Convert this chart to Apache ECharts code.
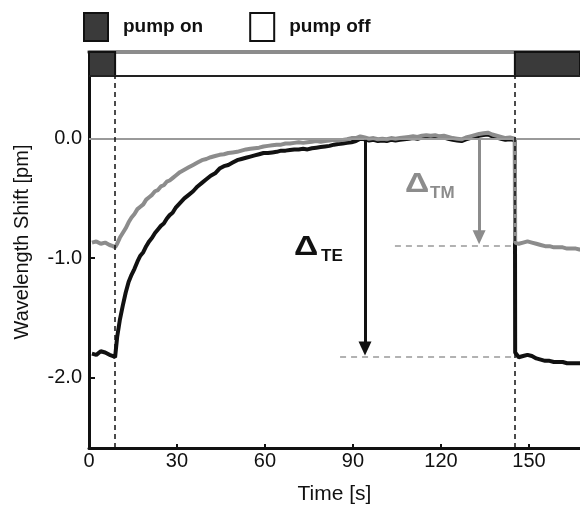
<!DOCTYPE html>
<html>
<head>
<meta charset="utf-8">
<script src="https://cdn.jsdelivr.net/npm/echarts@6/dist/echarts.min.js"></script>
<style>html,body{margin:0;padding:0;background:#fff;}#c{width:580px;height:510px;}</style>
</head>
<body>
<div id="c"></div>
<script>
// Time [s]
const times = [
  1, 2.5, 4, 5.5, 7, 8.2, 8.9,
  9.6, 10.5, 11.5, 12.5, 13.5, 14.5, 15.5, 16.5, 17.5, 18.5, 19.5, 20.5, 21.5, 22.5, 23.5, 24.5, 25.5, 26.5, 27.5, 28.5, 29.5,
  31, 32.5, 34, 35.5, 37, 38.5, 40, 41.5, 43, 44.5, 46, 47.5, 49, 50.5, 52, 53.5, 55, 56.5, 58, 59.5,
  61, 62.5, 64, 65.5, 67, 68.5, 70, 71.5, 73, 74.5, 76, 77.5, 79, 80.5, 82, 83.5, 85, 86.5, 88, 89.5,
  91, 92.5, 94, 95.5, 97, 98.5, 100, 101.5, 103, 104.5, 106, 107.5, 109, 110.5, 112, 113.5, 115, 116.5, 118, 119.5,
  121, 122.5, 124, 125.5, 127, 128.5, 130, 131.5, 133, 134.5, 136, 137.5, 139, 140.5, 142, 143.5, 145.2,
  145.3, 146.5, 148, 149.5, 151, 152.5, 154, 155.5, 157, 158.5, 160, 161.5, 163, 164.5, 166, 167.5
];
// TE wavelength shift [pm] (black)
const shiftTE = [
  -1.80, -1.81, -1.78, -1.79, -1.81, -1.82, -1.83,
  -1.66, -1.52, -1.40, -1.29, -1.20, -1.14, -1.09, -1.03, -0.98, -0.95, -0.90, -0.86, -0.83, -0.79, -0.76, -0.73, -0.71, -0.67, -0.64, -0.62, -0.58,
  -0.54, -0.50, -0.47, -0.44, -0.40, -0.37, -0.34, -0.31, -0.29, -0.25, -0.23, -0.22, -0.20, -0.18, -0.17, -0.16, -0.15, -0.14, -0.13, -0.12,
  -0.12, -0.115, -0.11, -0.10, -0.10, -0.095, -0.09, -0.09, -0.085, -0.09, -0.08, -0.075, -0.07, -0.065, -0.06, -0.05, -0.045, -0.04, -0.035, -0.03,
  -0.02, 0.0, -0.005, -0.015, -0.01, -0.02, -0.015, -0.02, -0.01, -0.015, -0.01, -0.005, 0.0, 0.005, 0.0, 0.01, 0.015, 0.01, 0.015, 0.005,
  0.01, 0.0, -0.01, -0.015, -0.02, -0.005, 0.005, 0.015, 0.025, 0.03, 0.035, 0.02, 0.01, 0.0, -0.01, -0.005, -0.01,
  -1.79, -1.83, -1.82, -1.81, -1.82, -1.84, -1.85, -1.86, -1.86, -1.87, -1.87, -1.87, -1.88, -1.88, -1.88, -1.88
];
// TM wavelength shift [pm] (gray)
const shiftTM = [
  -0.87, -0.86, -0.88, -0.87, -0.89, -0.90, -0.91,
  -0.88, -0.83, -0.79, -0.75, -0.70, -0.66, -0.63, -0.59, -0.57, -0.55, -0.51, -0.49, -0.47, -0.44, -0.43, -0.40, -0.39, -0.36, -0.35, -0.33, -0.31,
  -0.28, -0.26, -0.24, -0.22, -0.20, -0.18, -0.17, -0.155, -0.145, -0.135, -0.13, -0.12, -0.115, -0.11, -0.10, -0.09, -0.085, -0.08, -0.075, -0.065,
  -0.06, -0.055, -0.05, -0.05, -0.04, -0.04, -0.035, -0.03, -0.035, -0.03, -0.025, -0.02, -0.025, -0.02, -0.015, -0.01, -0.015, -0.01, -0.005, 0.005,
  0.005, 0.02, 0.01, 0.0, 0.005, -0.005, 0.0, -0.005, 0.005, 0.0, 0.005, 0.01, 0.015, 0.02, 0.015, 0.025, 0.03, 0.025, 0.03, 0.02,
  0.025, 0.015, 0.005, 0.0, -0.005, 0.01, 0.02, 0.03, 0.04, 0.045, 0.05, 0.035, 0.025, 0.015, 0.005, 0.01, 0.0,
  -0.87, -0.88, -0.87, -0.86, -0.87, -0.88, -0.89, -0.90, -0.90, -0.91, -0.91, -0.91, -0.92, -0.92, -0.92, -0.93
];
// pump-on intervals [s]
const pumpOn = [[0, 8.9], [145.2, 167.4]];
const switchTimes = [8.9, 145.2];
// arrows: [time, from, to]
const arrowTE = [94.1, -0.01, -1.81];
const arrowTM = [133, -0.01, -0.88];
// dashed reference levels: [startTime, endTime, level]
const levelTE = [85.6, 145.2, -1.825];
const levelTM = [104.3, 145.2, -0.9];
const xTicks = [0, 30, 60, 90, 120, 150];
const yTicks = [-2, -1, 0];

const FONT = '"Liberation Sans", Arial, Helvetica, sans-serif';
const BLACK = '#111111';
const GRAY = '#8c8c8c';

const dataTE = times.map((t, i) => [t, shiftTE[i]]);
const dataTM = times.map((t, i) => [t, shiftTM[i]]);

const headPx = 6.5 / 120; // half arrow-head height in value units
const chart = echarts.init(document.getElementById('c'), null, {renderer: 'canvas'});
chart.setOption({
  animation: false,
  backgroundColor: '#fff',
  legend: {
    left: 78, top: 7, itemWidth: 24, itemHeight: 28, itemGap: 46,
    selectedMode: false,
    textStyle: {fontFamily: FONT, fontSize: 19, fontWeight: 'bold', color: BLACK, padding: [0, 0, 0, 10]},
    data: [
      {name: 'pump on', icon: 'rect', itemStyle: {color: '#3a3a3a', borderColor: BLACK, borderWidth: 2}},
      {name: 'pump off', icon: 'rect', itemStyle: {color: '#ffffff', borderColor: BLACK, borderWidth: 2}}
    ]
  },
  grid: [
    {left: 89, right: 0, top: 76, bottom: 60},
    {left: 89, right: 0, top: 52, height: 24}
  ],
  xAxis: [
    {
      type: 'value', gridIndex: 0, min: 0, max: 167.4,
      axisLine: {show: true, onZero: false, lineStyle: {color: BLACK, width: 3}},
      axisTick: {show: true, inside: true, length: 4, customValues: xTicks, lineStyle: {color: BLACK, width: 2}},
      axisLabel: {customValues: xTicks, color: BLACK, fontFamily: FONT, fontSize: 20, margin: 3},
      splitLine: {show: false},
      name: 'Time [s]', nameLocation: 'middle', nameGap: 36,
      nameTextStyle: {fontFamily: FONT, fontSize: 21, color: BLACK}
    },
    {
      type: 'value', gridIndex: 1, min: 0, max: 167.4, position: 'top',
      axisLine: {show: true, onZero: false, lineStyle: {color: GRAY, width: 4}},
      axisTick: {show: false}, axisLabel: {show: false}, splitLine: {show: false}
    }
  ],
  yAxis: [
    {
      type: 'value', gridIndex: 0, min: -2.59, max: 0.525,
      axisLine: {show: true, onZero: false, lineStyle: {color: BLACK, width: 3}},
      axisTick: {show: true, inside: true, length: 6, customValues: yTicks, lineStyle: {color: BLACK, width: 2}},
      axisLabel: {customValues: yTicks, color: BLACK, fontFamily: FONT, fontSize: 20, margin: 7,
        formatter: v => v.toFixed(1)},
      splitLine: {show: false}
    },
    {
      type: 'value', gridIndex: 1, min: 0, max: 1,
      axisLine: {show: false}, axisTick: {show: false}, axisLabel: {show: false}, splitLine: {show: false}
    }
  ],
  graphic: [
    {type: 'text', x: 22, y: 242, rotation: Math.PI / 2, z: 10,
      style: {text: 'Wavelength Shift [pm]', fontFamily: FONT, fontSize: 20, fill: BLACK, textAlign: 'center', textVerticalAlign: 'middle'}},
    {type: 'text', x: 294, y: 248, scaleX: 1.25, z: 10,
      style: {text: 'Δ', fontFamily: FONT, fontSize: 27, fontWeight: 'bold', fill: BLACK, textAlign: 'left', textVerticalAlign: 'middle'}},
    {type: 'text', x: 321, y: 256, z: 10,
      style: {text: 'TE', fontFamily: FONT, fontSize: 17, fontWeight: 'bold', fill: BLACK, textAlign: 'left', textVerticalAlign: 'middle'}},
    {type: 'text', x: 405, y: 185, scaleX: 1.25, z: 10,
      style: {text: 'Δ', fontFamily: FONT, fontSize: 27, fontWeight: 'bold', fill: GRAY, textAlign: 'left', textVerticalAlign: 'middle'}},
    {type: 'text', x: 430, y: 193, z: 10,
      style: {text: 'TM', fontFamily: FONT, fontSize: 17, fontWeight: 'bold', fill: GRAY, textAlign: 'left', textVerticalAlign: 'middle'}}
  ],
  series: [
    {
      name: 'pump on', type: 'bar', xAxisIndex: 1, yAxisIndex: 1, data: [],
      itemStyle: {color: '#3a3a3a', borderColor: BLACK, borderWidth: 2},
      markArea: {silent: true, itemStyle: {color: '#3a3a3a', borderColor: BLACK, borderWidth: 2},
        data: pumpOn.map(p => [{xAxis: p[0]}, {xAxis: p[1]}])}
    },
    {
      name: 'pump off', type: 'bar', xAxisIndex: 1, yAxisIndex: 1, data: [],
      itemStyle: {color: '#ffffff', borderColor: BLACK, borderWidth: 2},
      markLine: {silent: true, symbol: ['none', 'none'], label: {show: false},
        lineStyle: {color: '#222', width: 2, type: 'solid'}, data: [{yAxis: 0}]}
    },
    {
      name: 'refs', type: 'line', xAxisIndex: 0, yAxisIndex: 0, data: [], z: 1,
      markLine: {
        silent: true, symbol: ['none', 'none'], label: {show: false}, animation: false,
        data: [
          {yAxis: 0, lineStyle: {color: '#9a9a9a', width: 2, type: 'solid'}},
          [{coord: [levelTM[0], levelTM[2]], lineStyle: {color: '#999', width: 1.5, type: [6, 5]}}, {coord: [levelTM[1], levelTM[2]]}],
          [{coord: [levelTE[0], levelTE[2]], lineStyle: {color: '#999', width: 1.5, type: [6, 5]}}, {coord: [levelTE[1], levelTE[2]]}]
        ]
      }
    },
    {
      name: 'TE', type: 'line', data: dataTE, showSymbol: false, z: 3,
      lineStyle: {color: BLACK, width: 4}, itemStyle: {color: BLACK},
      markLine: {
        silent: true, symbol: ['none', 'none'], label: {show: false}, z: 6,
        lineStyle: {color: BLACK, width: 1.5, type: [5, 4]},
        data: switchTimes.map(t => ({xAxis: t}))
      }
    },
    {
      name: 'TM', type: 'line', data: dataTM, showSymbol: false, z: 4,
      lineStyle: {color: GRAY, width: 4}, itemStyle: {color: GRAY}
    },
    {
      name: 'arrows', type: 'line', data: [], z: 7,
      markLine: {
        silent: true, symbol: ['none', 'triangle'], symbolSize: [13, 14], label: {show: false},
        data: [
          [{coord: [arrowTE[0], arrowTE[1]], lineStyle: {color: BLACK, width: 3, type: 'solid'}, itemStyle: {color: BLACK}},
           {coord: [arrowTE[0], arrowTE[2] + headPx]}],
          [{coord: [arrowTM[0], arrowTM[1]], lineStyle: {color: GRAY, width: 3, type: 'solid'}, itemStyle: {color: GRAY}},
           {coord: [arrowTM[0], arrowTM[2] + headPx]}]
        ]
      }
    }
  ]
});
</script>
</body>
</html>
